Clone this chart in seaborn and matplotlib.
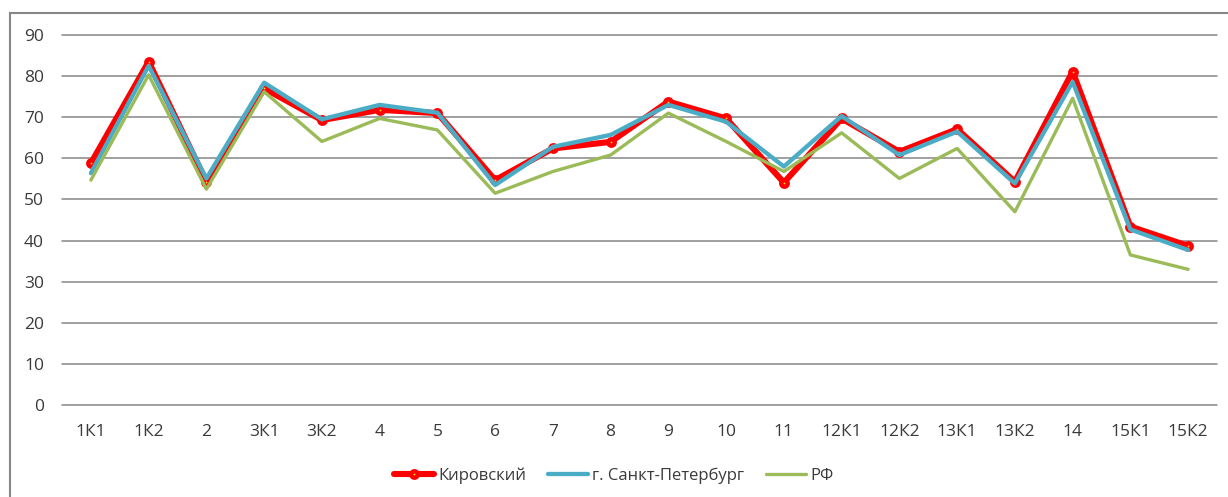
import numpy as np
import pandas as pd
import matplotlib
matplotlib.use("Agg")
import matplotlib.pyplot as plt
from matplotlib.patches import Rectangle
from matplotlib.lines import Line2D
import seaborn as sns

categories = ["1К1", "1К2", "2", "3К1", "3К2", "4", "5", "6", "7", "8", "9", "10",
              "11", "12К1", "12К2", "13К1", "13К2", "14", "15К1", "15К2"]
kirovsky = [58.8, 83.5, 54.3, 77.0, 69.3, 71.8, 71.0, 54.7, 62.4, 64.0, 73.8, 69.7,
            54.1, 69.7, 61.6, 67.1, 54.3, 81.1, 43.4, 38.7]
spb = [56.4, 82.5, 55.1, 78.4, 69.5, 73.0, 71.1, 53.5, 62.8, 65.7, 73.0, 68.9,
       58.0, 70.3, 60.8, 66.5, 53.9, 78.6, 42.7, 37.7]
rf = [54.7, 80.3, 52.5, 76.2, 64.1, 69.7, 66.9, 51.5, 56.8, 60.8, 71.0, 64.1,
      56.8, 66.2, 55.1, 62.4, 47.0, 74.6, 36.5, 33.0]
series_names = ["Кировский", "г. Санкт-Петербург", "РФ"]
yticks = [0, 10, 20, 30, 40, 50, 60, 70, 80, 90]

sns.set_theme(style="white")
plt.rcParams["font.family"] = ["Open Sans", "DejaVu Sans"]

W, H = 1228, 497
fig = plt.figure(figsize=(W / 100, H / 100), dpi=100)
ax = fig.add_axes([62 / W, 1 - 405 / H, (1217 - 62) / W, (405 - 35) / H])

x = np.arange(len(categories))
colors = {"Кировский": "#FF0000", "г. Санкт-Петербург": "#4BACC6", "РФ": "#9BBB59"}
widths = {"Кировский": 4.4, "г. Санкт-Петербург": 3.1, "РФ": 2.4}
mk = dict(marker="o", markersize=4.6, markeredgewidth=3.2,
          markerfacecolor="#FFD700", markeredgecolor="#FF0000")

for i, (name, vals) in enumerate(zip(series_names, [kirovsky, spb, rf])):
    df = pd.DataFrame({"x": x, "y": vals})
    kw = mk if name == "Кировский" else {}
    sns.lineplot(data=df, x="x", y="y", ax=ax, color=colors[name],
                 linewidth=widths[name], sort=False, zorder=3 + i,
                 legend=False, **kw)

ax.set_xlim(-0.5, len(categories) - 0.5)
ax.set_ylim(0, 90)
ax.set_yticks(yticks)
ax.set_yticklabels([str(v) for v in yticks])
ax.set_xticks(x)
ax.set_xticklabels(categories)
ax.set_xlabel("")
ax.set_ylabel("")
ax.grid(False)
for v in yticks:
    ax.axhline(v, color="#868686", linewidth=1.1, zorder=1, clip_on=False)
for s in ax.spines.values():
    s.set_visible(False)
ax.tick_params(axis="both", length=0, labelsize=12.5, colors="#3a3a3a")
ax.tick_params(axis="y", pad=13)
ax.tick_params(axis="x", pad=14)

# outer chart border
fig.patches.append(Rectangle((10 / W, -0.05), 1.2, 1 - 13 / H + 0.05,
                             transform=fig.transFigure, fill=False,
                             edgecolor="#868686", linewidth=1.5))

handles = [
    Line2D([], [], color="#FF0000", linewidth=widths["Кировский"], **mk),
    Line2D([], [], color="#4BACC6", linewidth=widths["г. Санкт-Петербург"]),
    Line2D([], [], color="#9BBB59", linewidth=widths["РФ"]),
]
leg = fig.legend(handles, series_names, loc="center", bbox_to_anchor=(0.5, 1 - 476 / H),
                 ncol=3, frameon=False, fontsize=12, handlelength=2.4,
                 handletextpad=0.25, columnspacing=1.3)
for t in leg.get_texts():
    t.set_color("#3a3a3a")

fig.savefig("out.png", dpi=100)
